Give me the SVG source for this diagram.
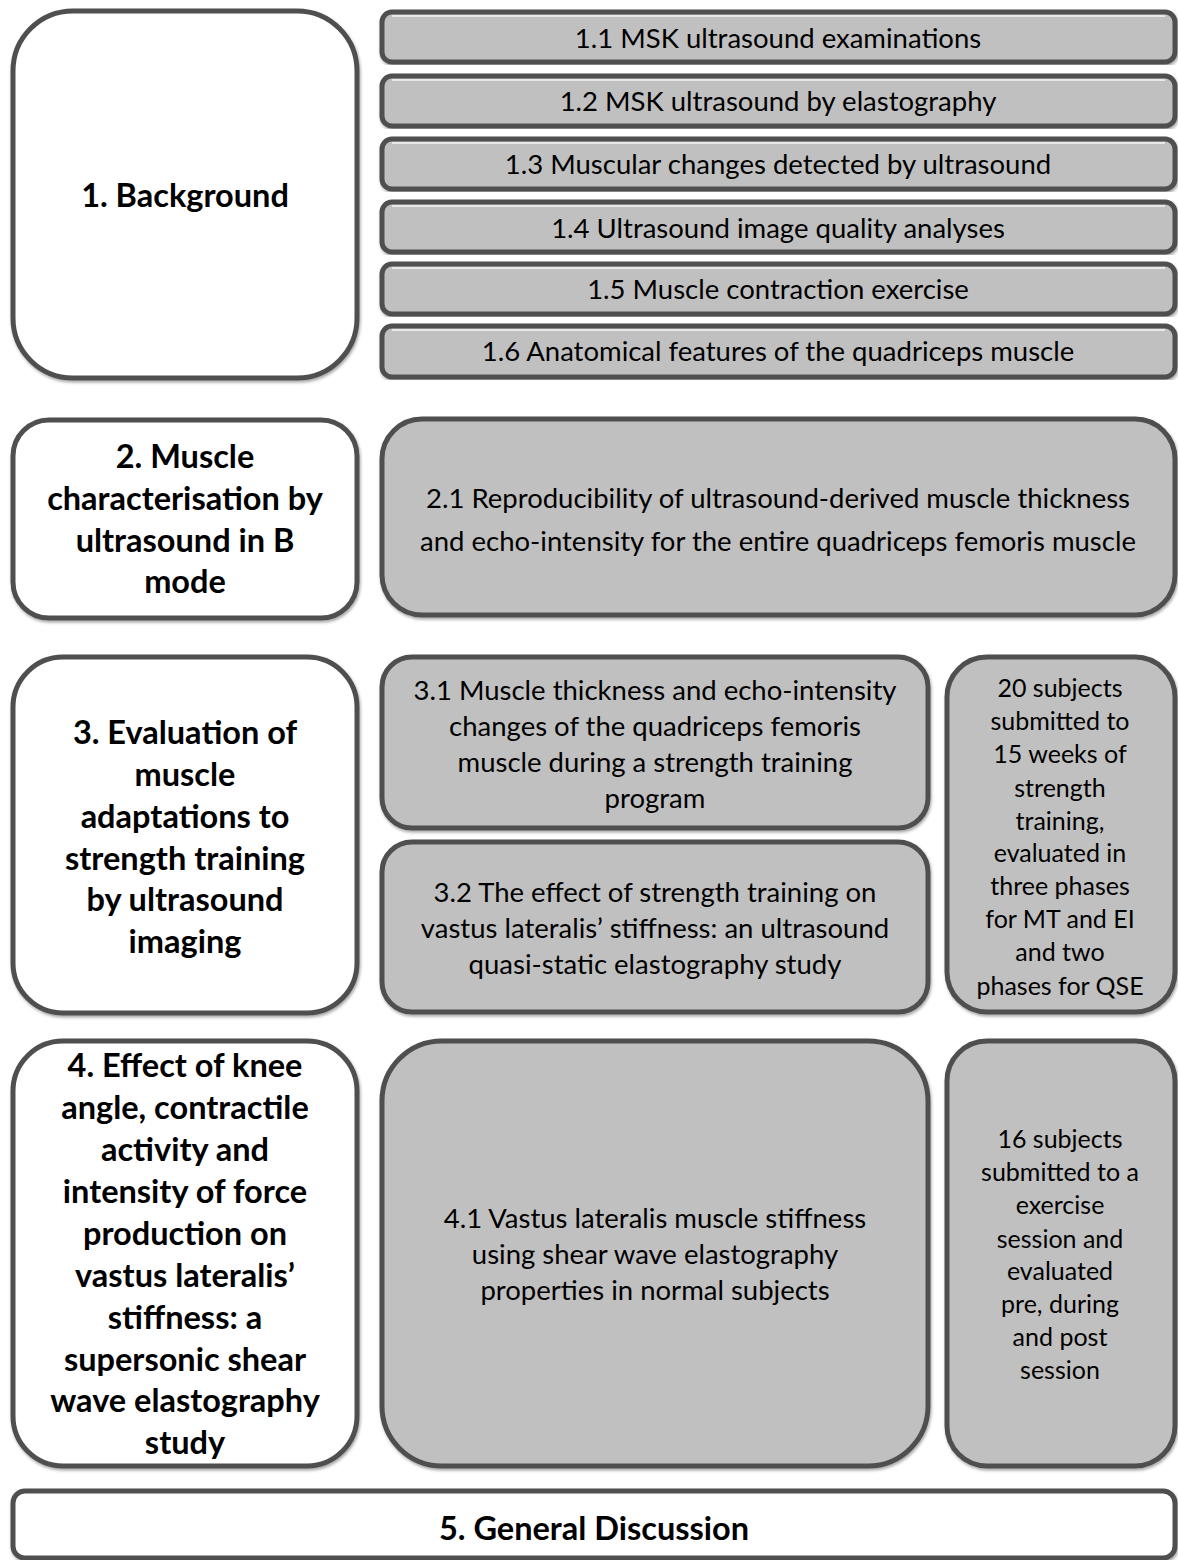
<svg xmlns="http://www.w3.org/2000/svg" width="1178" height="1560" viewBox="0 0 1178 1560">
<defs>
<filter id="sh" x="-5%" y="-5%" width="110%" height="110%">
<feDropShadow dx="1" dy="2" stdDeviation="1.5" flood-color="#000" flood-opacity="0.35"/>
</filter>
</defs>
<style>
.w{fill:#ffffff;stroke:#505050;stroke-width:5;filter:url(#sh)}
.g{fill:#c0c0c0;stroke:#505050;stroke-width:5;filter:url(#sh)}
.hl{fill:none;stroke:#e8e8e8;stroke-width:2}
.t{font-family:Lato,"Open Sans","Liberation Sans",sans-serif;fill:#000;text-anchor:middle}
.b{font-weight:bold;font-size:32.5px}
.n{font-size:27.5px}
.s{font-size:25px}
</style>
<g id="n1">
<rect class="w" x="13" y="11" width="344" height="367" rx="60"/>
<text class="t b" x="185" y="207">1. Background</text>
</g>
<g id="n1_1"><rect class="g" x="382" y="12" width="793" height="50" rx="10"/><line class="hl" x1="392" y1="16" x2="1165" y2="16"/><text class="t n" x="778" y="48">1.1 MSK ultrasound examinations</text></g>
<g id="n1_2"><rect class="g" x="382" y="76" width="793" height="50" rx="10"/><line class="hl" x1="392" y1="80" x2="1165" y2="80"/><text class="t n" x="778" y="111">1.2 MSK ultrasound by elastography</text></g>
<g id="n1_3"><rect class="g" x="382" y="139" width="793" height="50" rx="10"/><line class="hl" x1="392" y1="143" x2="1165" y2="143"/><text class="t n" x="778" y="174">1.3 Muscular changes detected by ultrasound</text></g>
<g id="n1_4"><rect class="g" x="382" y="202" width="793" height="50" rx="10"/><line class="hl" x1="392" y1="206" x2="1165" y2="206"/><text class="t n" x="778" y="238">1.4 Ultrasound image quality analyses</text></g>
<g id="n1_5"><rect class="g" x="382" y="264" width="793" height="50" rx="10"/><line class="hl" x1="392" y1="268" x2="1165" y2="268"/><text class="t n" x="778" y="299">1.5 Muscle contraction exercise</text></g>
<g id="n1_6"><rect class="g" x="382" y="326" width="793" height="51" rx="10"/><line class="hl" x1="392" y1="330" x2="1165" y2="330"/><text class="t n" x="778" y="361">1.6 Anatomical features of the quadriceps muscle</text></g>

<g id="n2">
<rect class="w" x="13" y="420" width="344" height="198" rx="36"/>
<text class="t b"><tspan x="185" y="468">2. Muscle</tspan><tspan x="185" y="510">characterisation by</tspan><tspan x="185" y="552">ultrasound in B</tspan><tspan x="185" y="593">mode</tspan></text>
</g>
<g id="n2_1">
<rect class="g" x="382" y="419" width="793" height="196" rx="40"/>
<text class="t n"><tspan x="778" y="508">2.1 Reproducibility of ultrasound-derived muscle thickness</tspan><tspan x="778" y="551">and echo-intensity for the entire quadriceps femoris muscle</tspan></text>
</g>

<g id="n3">
<rect class="w" x="13" y="657" width="344" height="356" rx="50"/>
<text class="t b"><tspan x="185" y="744">3. Evaluation of</tspan><tspan x="185" y="786">muscle</tspan><tspan x="185" y="828">adaptations to</tspan><tspan x="185" y="870">strength training</tspan><tspan x="185" y="911">by ultrasound</tspan><tspan x="185" y="953">imaging</tspan></text>
</g>
<g id="n3_1">
<rect class="g" x="382" y="657" width="546" height="171" rx="30"/>
<text class="t n"><tspan x="655" y="700">3.1 Muscle thickness and echo-intensity</tspan><tspan x="655" y="736">changes of the quadriceps femoris</tspan><tspan x="655" y="772">muscle during a strength training</tspan><tspan x="655" y="808">program</tspan></text>
</g>
<g id="n3_2">
<rect class="g" x="382" y="842" width="546" height="170" rx="30"/>
<text class="t n"><tspan x="655" y="902">3.2 The effect of strength training on</tspan><tspan x="655" y="938">vastus lateralis’ stiffness: an ultrasound</tspan><tspan x="655" y="974">quasi-static elastography study</tspan></text>
</g>
<g id="n3_3">
<rect class="g" x="947" y="657" width="228" height="355" rx="40"/>
<text class="t s"><tspan x="1060" y="697">20 subjects</tspan><tspan x="1060" y="730">submitted to</tspan><tspan x="1060" y="763">15 weeks of</tspan><tspan x="1060" y="797">strength</tspan><tspan x="1060" y="830">training,</tspan><tspan x="1060" y="862">evaluated in</tspan><tspan x="1060" y="895">three phases</tspan><tspan x="1060" y="928">for MT and EI</tspan><tspan x="1060" y="961">and two</tspan><tspan x="1060" y="995">phases for QSE</tspan></text>
</g>

<g id="n4">
<rect class="w" x="13" y="1041" width="344" height="425" rx="50"/>
<text class="t b"><tspan x="185" y="1077">4. Effect of knee</tspan><tspan x="185" y="1119">angle, contractile</tspan><tspan x="185" y="1161">activity and</tspan><tspan x="185" y="1203">intensity of force</tspan><tspan x="185" y="1245">production on</tspan><tspan x="185" y="1287">vastus lateralis’</tspan><tspan x="185" y="1329">stiffness: a</tspan><tspan x="185" y="1371">supersonic shear</tspan><tspan x="185" y="1412">wave elastography</tspan><tspan x="185" y="1454">study</tspan></text>
</g>
<g id="n4_1">
<rect class="g" x="382" y="1041" width="546" height="425" rx="60"/>
<text class="t n"><tspan x="655" y="1228">4.1 Vastus lateralis muscle stiffness</tspan><tspan x="655" y="1264">using shear wave elastography</tspan><tspan x="655" y="1300">properties in normal subjects</tspan></text>
</g>
<g id="n4_2">
<rect class="g" x="947" y="1041" width="228" height="425" rx="40"/>
<text class="t s"><tspan x="1060" y="1148">16 subjects</tspan><tspan x="1060" y="1181">submitted to a</tspan><tspan x="1060" y="1214">exercise</tspan><tspan x="1060" y="1248">session and</tspan><tspan x="1060" y="1280">evaluated</tspan><tspan x="1060" y="1313">pre, during</tspan><tspan x="1060" y="1346">and post</tspan><tspan x="1060" y="1379">session</tspan></text>
</g>

<g id="n5">
<rect class="w" x="13" y="1491" width="1162" height="67" rx="12"/>
<text class="t b" x="594" y="1540">5. General Discussion</text>
</g>
<g id="connectors"></g>
</svg>
